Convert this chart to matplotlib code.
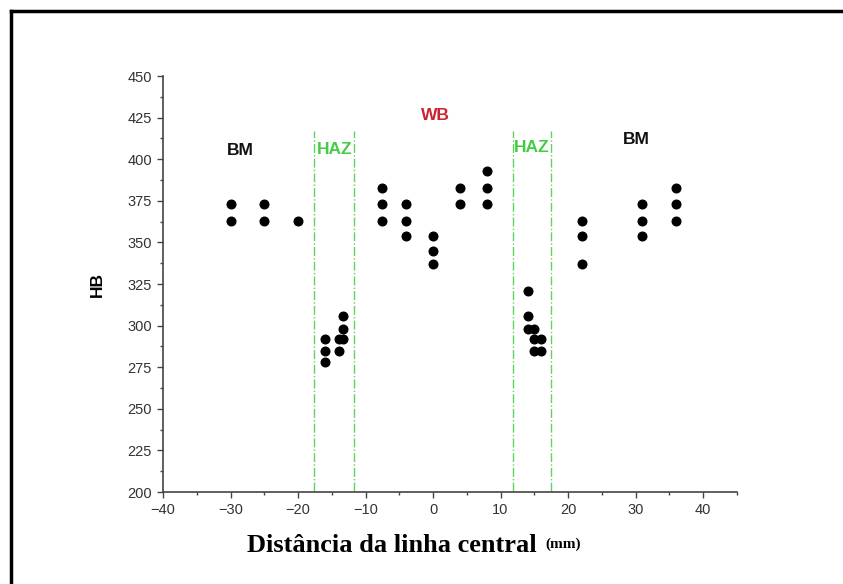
import numpy as np
import matplotlib.pyplot as plt
from matplotlib.lines import Line2D

# Hardness readings (HB) by distance from the weld centre line (mm)
dist = [-30, -30, -25, -25, -20,
        -16, -16, -16, -14, -14, -13.4, -13.4, -13.4,
        -7.5, -7.5, -7.5, -4, -4, -4, 0, 0, 0, 4, 4, 8, 8, 8,
        14, 14, 14, 15, 15, 15, 16, 16,
        22, 22, 22, 31, 31, 31, 36, 36, 36]
hb = [373, 363, 373, 363, 363,
      292, 285, 278, 292, 285, 306, 298, 292,
      383, 373, 363, 373, 363, 354, 354, 345, 337, 383, 373, 393, 383, 373,
      321, 306, 298, 298, 292, 285, 292, 285,
      363, 354, 337, 373, 363, 354, 383, 373, 363]

haz_lines = [-17.6, -11.7, 11.8, 17.5]

# zone labels: (text, x, y, colour)
zone_text = ['BM', 'HAZ', 'WB', 'HAZ', 'BM']
zone_x = [-28.6, -14.6, 0.3, 14.6, 30.1]
zone_y = [405, 406, 426, 407, 412]
zone_col = ['#111111', '#44cc44', '#cc2233', '#44cc44', '#111111']

fig = plt.figure(figsize=(8.43, 5.84), dpi=100)
ax = fig.add_axes([0.1934, 0.1575, 0.6806, 0.7123])

ax.vlines(haz_lines, 200.5, 417, colors='#5fd35f', linestyles='-.', linewidth=1.0)
ax.plot(dist, hb, 'o', color='black', markersize=6.2)

for t, x, y, c in zip(zone_text, zone_x, zone_y, zone_col):
    ax.text(x, y, t, color=c, fontsize=12.5, fontweight='bold',
            ha='center', va='center', family='Liberation Sans')

ax.set_xlim(-40, 45)
ax.set_ylim(200, 450)
ax.set_xticks(np.arange(-40, 41, 10))
ax.set_xticks(np.arange(-35, 46, 5), minor=True)
ax.set_yticks(np.arange(200, 451, 25))
ax.set_yticks(np.arange(212.5, 450, 25), minor=True)

for s in ['top', 'right']:
    ax.spines[s].set_visible(False)
for s in ['left', 'bottom']:
    ax.spines[s].set_color('#444444')
    ax.spines[s].set_linewidth(1.2)

ax.tick_params(which='major', length=4, width=1, color='#444444',
               labelsize=10.5, labelcolor='#333333', pad=4)
ax.tick_params(which='minor', length=2.5, width=1, color='#444444')
for lab in ax.get_xticklabels() + ax.get_yticklabels():
    lab.set_family('Liberation Sans')

ax.set_ylabel('HB', fontsize=12.5, fontweight='bold', family='Liberation Sans',
              labelpad=16)

fig.text(0.465, 0.066, 'Distância da linha central', fontsize=19,
         fontweight='bold', family='Liberation Serif', ha='center', va='center')
fig.text(0.647, 0.068, '(mm)', fontsize=11, fontweight='bold',
         family='Liberation Serif', ha='left', va='center')

# outer frame (left and top edges)
fig.add_artist(Line2D([11 / 843, 11 / 843], [0, 1 - 11 / 584],
                      transform=fig.transFigure, color='black', linewidth=2.5))
fig.add_artist(Line2D([11 / 843, 1], [1 - 11 / 584, 1 - 11 / 584],
                      transform=fig.transFigure, color='black', linewidth=2.5))

fig.savefig('out.png', dpi=100)
